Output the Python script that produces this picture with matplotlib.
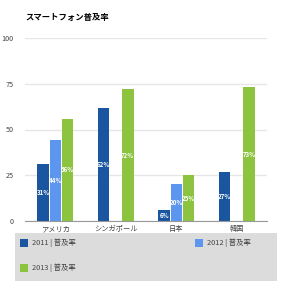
import numpy as np
import matplotlib
matplotlib.use("Agg")
import matplotlib.pyplot as plt
from matplotlib.patches import Rectangle

plt.rcParams['font.family'] = ['Noto Sans CJK JP', 'DejaVu Sans']

categories = ['アメリカ', 'シンガポール', '日本', '韓国']
series_names = ['2011 | 普及率', '2012 | 普及率', '2013 | 普及率']
v2011 = [31, 62, 6, 27]
v2012 = [44, None, 20, None]
v2013 = [56, 72, 25, 73]
colors = ['#1a55a0', '#5c96ee', '#8cc43f']
title = 'スマートフォン普及率'
yticks = [0, 25, 50, 75, 100]

fig = plt.figure(figsize=(2.90, 2.81), dpi=100)
ax = fig.add_axes([25/290, 1-221/281, 242/290, 183/281])

x = np.arange(len(categories))
bw = 0.2
for i, (vals, col) in enumerate(zip([v2011, v2012, v2013], colors)):
    for j, v in enumerate(vals):
        if v is None:
            continue
        xp = x[j] + (i-1)*bw
        ax.bar(xp, v, width=bw*0.95, color=col, zorder=3)
        ax.text(xp, v/2, f'{v}%', color='white', fontsize=4.4, fontweight='bold',
                ha='center', va='center', zorder=4)

ax.set_xlim(-0.5, len(categories)-0.5)
ax.set_ylim(0, 100)
ax.set_yticks(yticks)
ax.set_xticks(x)
ax.set_xticklabels(categories)
ax.tick_params(axis='both', length=0, labelsize=5.2, colors='#444444', pad=3)
ax.tick_params(axis='y', pad=8)
ax.grid(axis='y', color='#e6e6e6', linewidth=1, zorder=0)
for s in ['top', 'right', 'left']:
    ax.spines[s].set_visible(False)
ax.spines['bottom'].set_color('#999999')
ax.spines['bottom'].set_zorder(5)

fig.text(25/290, 1-17/281, title, fontsize=6, fontweight='bold', va='center', ha='left')

# legend box
W, H = 290, 281
fig.patches.append(Rectangle((15/W, 0), 262/W, (281-233)/H, transform=fig.transFigure,
                             facecolor='#dcdcdc', edgecolor='none', zorder=0))
leg_pos = [(20, 243), (195, 243), (20, 268)]
for name, col, (lx, ly) in zip(series_names, colors, leg_pos):
    fig.patches.append(Rectangle((lx/W, 1-(ly+4)/H), 8/W, 8/H, transform=fig.transFigure,
                                 facecolor=col, edgecolor='none', zorder=1))
    fig.text((lx+12)/W, 1-ly/H, name, fontsize=5.3, color='#444444', va='center', ha='left')

fig.savefig('out.png', dpi=100)
